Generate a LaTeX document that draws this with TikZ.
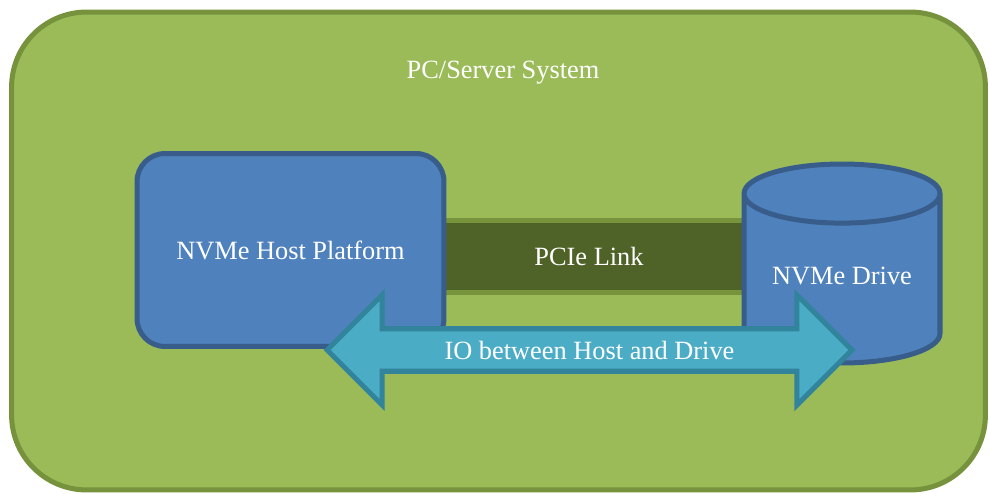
\documentclass[tikz,border=0pt]{standalone}
\usepackage{fontspec}
\setmainfont{Liberation Serif}
\usepackage{xcolor}
\usepackage{tikz}
\usetikzlibrary{shapes.geometric,shapes.arrows}
\definecolor{sysgreen}{HTML}{9BBB59}
\definecolor{sysborder}{HTML}{76923C}
\definecolor{hostblue}{HTML}{4F81BD}
\definecolor{hostborder}{HTML}{385D8A}
\definecolor{linkgreen}{HTML}{4F6228}
\definecolor{linkborder}{HTML}{77933C}
\definecolor{iocyan}{HTML}{4BACC6}
\definecolor{ioborder}{HTML}{31849B}
\tikzset{
	every node/.style={text=white, font=\fontsize{15}{18}\selectfont},
	systembox/.style={draw=sysborder, fill=sysgreen, line width=2.85pt, rounded corners=1.5cm, minimum width=19.48cm, minimum height=9.56cm},
	hostbox/.style={draw=hostborder, fill=hostblue, line width=2.85pt, rounded corners=0.56cm, minimum width=6.14cm, minimum height=3.86cm},
	linkbar/.style={draw=linkborder, fill=linkgreen, line width=2.85pt, minimum width=6.6cm, minimum height=1.44cm},
	drivecyl/.style={cylinder, shape border rotate=90, aspect=0.39, draw=hostborder, fill=hostblue, line width=2.85pt, minimum width=3.92cm, minimum height=3.98cm, anchor=shape center, text depth=0.36cm},
	ioarrow/.style={double arrow, double arrow tip angle=90, double arrow head extend=0.56cm, draw=ioborder, fill=iocyan, line width=2.85pt, minimum height=10.5cm, minimum width=2.2cm},
}
\begin{document}
\begin{tikzpicture}[x=0.02cm, y=-0.02cm]
	\useasboundingbox (0,0) rectangle (989,493);
	\node[systembox] (system) at (498.5,251) {};
	\node (title) at (503,73) {PC/Server System};
	% link sits behind host and drive
	\node[linkbar] (link) at (589,256.5) {PCIe Link};
	\node[hostbox] (host) at (290.5,250) {NVMe Host Platform};
	\node[drivecyl] (drive) at (842,263.5) {NVMe Drive};
	\node[ioarrow] (io) at (589.5,350) {IO between Host and Drive};
\end{tikzpicture}
\end{document}
